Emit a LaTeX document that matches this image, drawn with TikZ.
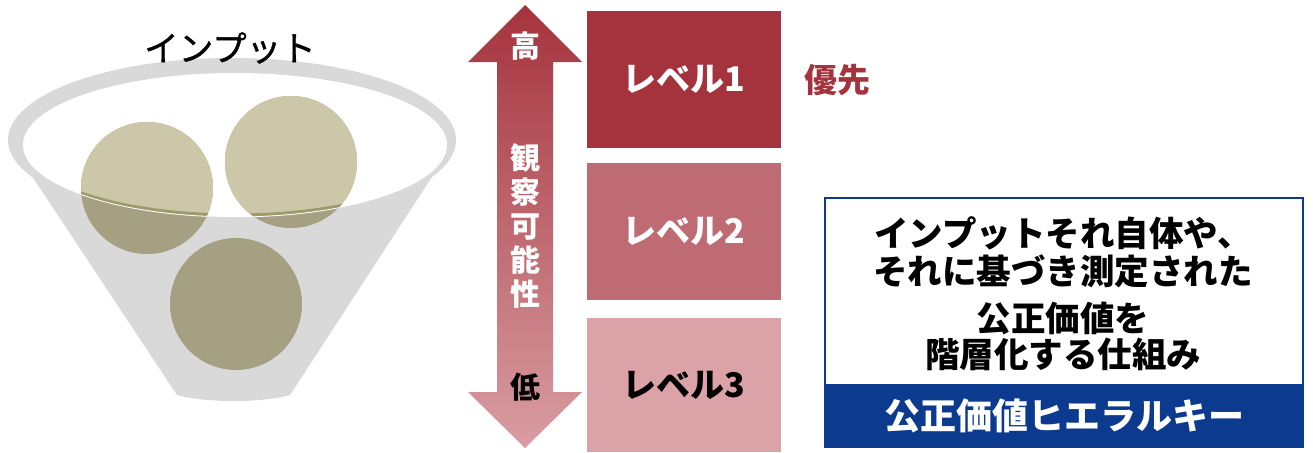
\documentclass[tikz,border=0pt]{standalone}
\usepackage{fontspec}
\setmainfont{Noto Sans CJK JP}
\newfontfamily\medfont[FakeBold=1.2]{Noto Sans CJK JP}
\definecolor{lvone}{HTML}{A5333D}
\definecolor{lvtwo}{HTML}{BF6B73}
\definecolor{lvthree}{HTML}{DBA3A8}
\definecolor{navy}{HTML}{0C3A8E}
\definecolor{funnelgray}{HTML}{D9D9D9}
\definecolor{ballhi}{HTML}{CCC7A8}
\definecolor{balllo}{HTML}{A6A083}
\definecolor{rimband}{HTML}{9E9A6C}
\begin{document}
\begin{tikzpicture}[x=1pt,y=-1pt,
  levelbox/.style={minimum width=194pt, inner sep=0pt, outer sep=0pt,
    font=\fontsize{34}{38}\selectfont\bfseries},
  arrowlabel/.style={inner sep=0pt, font=\fontsize{30}{34}\selectfont\bfseries},
  boxline/.style={inner sep=0pt, font=\fontsize{34.5}{38}\selectfont\bfseries}]
\useasboundingbox (0,0) rectangle (1313,452);

% --- funnel with three balls ---
\fill[funnelgray] (8,140) -- (177,395) .. controls (205,403) and (262,403) .. (290,395) -- (456,140) -- cycle;
\fill[funnelgray] (232,140) ellipse [x radius=224pt, y radius=82pt];
\fill[white] (235,145) ellipse [x radius=212pt, y radius=72pt];
\fill[balllo] (147,188) circle [radius=66pt];
\fill[balllo] (291,162) circle [radius=66pt];
\fill[balllo] (236,304) circle [radius=66pt];
\begin{scope}
  \clip (235,145) ellipse [x radius=212pt, y radius=72pt];
  \fill[ballhi] (147,188) circle [radius=66pt];
  \fill[ballhi] (291,162) circle [radius=66pt];
\end{scope}
\begin{scope}
  \clip (147,188) circle [radius=66pt] (291,162) circle [radius=66pt];
  \draw[rimband, line width=3pt] (235,145) ellipse [x radius=211pt, y radius=70pt];
  \draw[white, line width=0.8pt] (235,145) ellipse [x radius=212pt, y radius=72pt];
\end{scope}
\node[inner sep=0pt, font=\medfont\fontsize{34.5}{38}\selectfont] (input) at (230,48) {インプット};

% --- observability arrow ---
\shade[top color=lvone, bottom color=lvthree!90!lvtwo]
  (525,5) -- (582,62) -- (553,62) -- (553,392) -- (582,392) -- (525,448)
  -- (468,392) -- (497,392) -- (497,62) -- (468,62) -- cycle;
\node[arrowlabel, text=white] (high) at (525,46) {高};
\node[arrowlabel, text=white, align=center] (obs) at (525,226) {観\\察\\可\\能\\性};
\node[arrowlabel, text=black] (low) at (525,387) {低};

% --- hierarchy levels ---
\node[levelbox, fill=lvone, text=white, minimum height=137pt] (lv1) at (684,79.5) {レベル1};
\node[levelbox, fill=lvtwo, text=white, minimum height=137pt] (lv2) at (684,231.5) {レベル2};
\node[levelbox, fill=lvthree, text=black, minimum height=134pt] (lv3) at (684,385) {レベル3};
\node[inner sep=0pt, text=lvone, font=\fontsize{33}{37}\selectfont\bfseries] (prio) at (837,80) {優先};

% --- description box ---
\node[draw=navy, line width=2.5pt, minimum width=478pt, minimum height=249pt, inner sep=0pt] (desc) at (1064,322.5) {};
\node[fill=navy, minimum width=478pt, minimum height=64pt, inner sep=0pt, anchor=south] (band) at (desc.south) {};
\node[boxline] (l1) at (1063,233) {インプットそれ自体や、};
\node[boxline] (l2) at (1063,271) {それに基づき測定された};
\node[boxline] (l3) at (1063,318) {公正価値を};
\node[boxline] (l4) at (1063,354) {階層化する仕組み};
\node[inner sep=0pt, text=white, font=\fontsize{36}{40}\selectfont\bfseries] (title) at (band.center) {公正価値ヒエラルキー};
\end{tikzpicture}
\end{document}
